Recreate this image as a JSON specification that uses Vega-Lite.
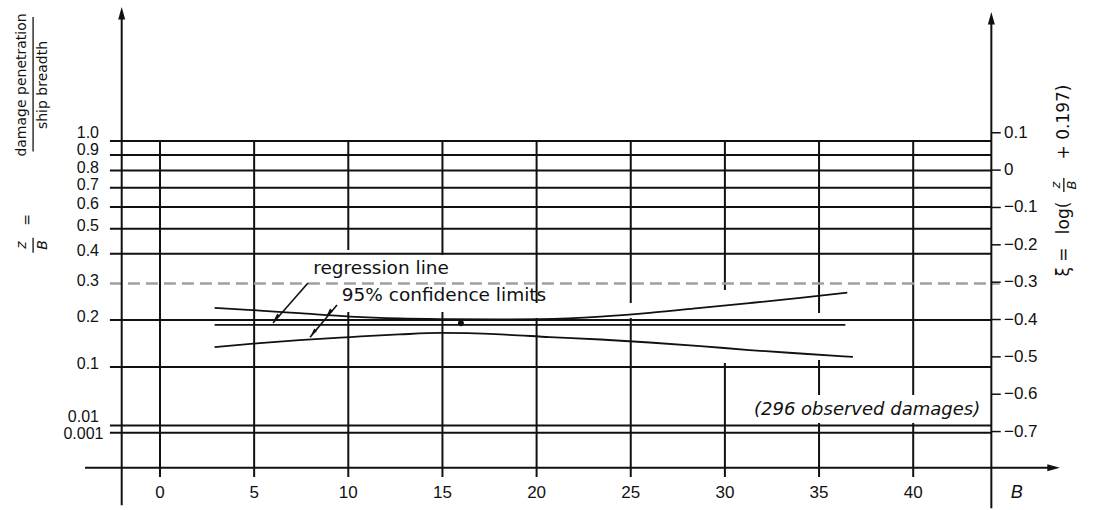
{
  "$schema": "https://vega.github.io/schema/vega-lite/v6.json",
  "width": 1095,
  "height": 510,
  "autosize": {"type": "none"},
  "padding": 0,
  "background": "white",
  "config": {"view": {"stroke": null}, "text": {"font": "Liberation Sans", "fontSize": 17, "color": "#111"}},
  "datasets": {
    "hl": [
      {"zb": "1.0", "xi": 0.0781}, {"zb": "0.9", "xi": 0.0402}, {"zb": "0.8", "xi": -0.0013},
      {"zb": "0.7", "xi": -0.0472}, {"zb": "0.6", "xi": -0.0985}, {"zb": "0.5", "xi": -0.1568},
      {"zb": "0.4", "xi": -0.224}, {"zb": "0.3", "xi": -0.3036}, {"zb": "0.2", "xi": -0.4012},
      {"zb": "0.1", "xi": -0.5272}, {"zb": "0.01", "xi": -0.684}, {"zb": "0.001", "xi": -0.7033}
    ],
    "vs": [
      {"B": 0, "top": 0.078, "bot": -0.8216},
      {"B": 5, "top": 0.078, "bot": -0.8216},
      {"B": 10, "top": 0.078, "bot": -0.2138}, {"B": 10, "top": -0.3798, "bot": -0.8216},
      {"B": 15, "top": 0.078, "bot": -0.2272}, {"B": 15, "top": -0.3798, "bot": -0.8216},
      {"B": 20, "top": 0.078, "bot": -0.3557}, {"B": 20, "top": -0.3959, "bot": -0.8216},
      {"B": 25, "top": 0.078, "bot": -0.3557}, {"B": 25, "top": -0.3959, "bot": -0.8216},
      {"B": 30, "top": 0.078, "bot": -0.3209}, {"B": 30, "top": -0.5164, "bot": -0.8216},
      {"B": 35, "top": 0.078, "bot": -0.3825}, {"B": 35, "top": -0.5084, "bot": -0.6021}, {"B": 35, "top": -0.6771, "bot": -0.8216},
      {"B": 40, "top": 0.078, "bot": -0.6021}, {"B": 40, "top": -0.6771, "bot": -0.8216}
    ],
    "rt": [
      {"xi": 0.1, "label": "0.1"}, {"xi": 0, "label": "0"}, {"xi": -0.1, "label": "−0.1"},
      {"xi": -0.2, "label": "−0.2"}, {"xi": -0.3, "label": "−0.3"}, {"xi": -0.4, "label": "−0.4"},
      {"xi": -0.5, "label": "−0.5"}, {"xi": -0.6, "label": "−0.6"}, {"xi": -0.7, "label": "−0.7"}
    ],
    "xt": [{"B": 0}, {"B": 5}, {"B": 10}, {"B": 15}, {"B": 20}, {"B": 25}, {"B": 30}, {"B": 35}, {"B": 40}],
    "cv": [
      {"s": "upper", "B": 2.9, "xi": -0.369}, {"s": "upper", "B": 5.3, "xi": -0.376}, {"s": "upper", "B": 7.4, "xi": -0.383},
      {"s": "upper", "B": 10.1, "xi": -0.392}, {"s": "upper", "B": 12.7, "xi": -0.397}, {"s": "upper", "B": 15.4, "xi": -0.399},
      {"s": "upper", "B": 18.1, "xi": -0.4}, {"s": "upper", "B": 20.2, "xi": -0.399}, {"s": "upper", "B": 23.4, "xi": -0.392},
      {"s": "upper", "B": 26.0, "xi": -0.382}, {"s": "upper", "B": 28.7, "xi": -0.369}, {"s": "upper", "B": 31.3, "xi": -0.356},
      {"s": "upper", "B": 34.0, "xi": -0.342}, {"s": "upper", "B": 36.5, "xi": -0.328},
      {"s": "lower", "B": 2.9, "xi": -0.474}, {"s": "lower", "B": 5.3, "xi": -0.463}, {"s": "lower", "B": 7.4, "xi": -0.455},
      {"s": "lower", "B": 10.1, "xi": -0.447}, {"s": "lower", "B": 12.7, "xi": -0.44}, {"s": "lower", "B": 14.9, "xi": -0.436},
      {"s": "lower", "B": 18.1, "xi": -0.44}, {"s": "lower", "B": 20.7, "xi": -0.447}, {"s": "lower", "B": 23.4, "xi": -0.4535},
      {"s": "lower", "B": 26.0, "xi": -0.4615}, {"s": "lower", "B": 28.7, "xi": -0.471}, {"s": "lower", "B": 31.3, "xi": -0.4818},
      {"s": "lower", "B": 34.0, "xi": -0.491}, {"s": "lower", "B": 36.8, "xi": -0.5},
      {"s": "regression", "B": 2.9, "xi": -0.4146}, {"s": "regression", "B": 36.4, "xi": -0.4146}
    ],
    "pt": [
      {"B": 7.86, "xi": -0.302, "B2": 6.0, "xi2": -0.4093},
      {"B": 9.4, "xi": -0.361, "B2": 7.97, "xi2": -0.4474}
    ]
  },
  "layer": [
    {
      "data": {"name": "vs"},
      "mark": {"type": "rule", "stroke": "#111", "strokeWidth": 2},
      "encoding": {
        "x": {"field": "B", "type": "quantitative", "scale": {"domain": [-8.497, 49.655], "nice": false, "zero": false}, "axis": null},
        "y": {"field": "top", "type": "quantitative", "scale": {"domain": [-0.91, 0.4555], "nice": false, "zero": false}, "axis": null},
        "y2": {"field": "bot"}
      }
    },
    {
      "data": {"name": "hl"},
      "transform": [{"filter": "datum.zb != '0.3'"}],
      "mark": {"type": "rule", "stroke": "#111", "strokeWidth": 2},
      "encoding": {
        "x": {"datum": -2.66, "type": "quantitative", "scale": {"domain": [-8.497, 49.655], "nice": false, "zero": false}, "axis": null},
        "x2": {"datum": 44.15},
        "y": {"field": "xi", "type": "quantitative", "scale": {"domain": [-0.91, 0.4555], "nice": false, "zero": false}, "axis": null}
      }
    },
    {
      "data": {"name": "hl"},
      "transform": [{"filter": "datum.zb == '0.3'"}],
      "mark": {"type": "rule", "stroke": "#a0a0a0", "strokeWidth": 2.5, "strokeDash": [12, 6]},
      "encoding": {
        "x": {"datum": -2.66, "type": "quantitative", "scale": {"domain": [-8.497, 49.655], "nice": false, "zero": false}, "axis": null},
        "x2": {"datum": 44.6},
        "y": {"field": "xi", "type": "quantitative", "scale": {"domain": [-0.91, 0.4555], "nice": false, "zero": false}, "axis": null}
      }
    },
    {
      "data": {"values": [{}]},
      "mark": {"type": "rule", "stroke": "#111", "strokeWidth": 2},
      "encoding": {
        "x": {"datum": -2.034, "type": "quantitative", "scale": {"domain": [-8.497, 49.655], "nice": false, "zero": false}, "axis": null},
        "y": {"datum": 0.41, "type": "quantitative", "scale": {"domain": [-0.91, 0.4555], "nice": false, "zero": false}, "axis": null},
        "y2": {"datum": -0.897}
      }
    },
    {
      "data": {"values": [{}]},
      "mark": {"type": "rule", "stroke": "#111", "strokeWidth": 2},
      "encoding": {
        "x": {"datum": 44.15, "type": "quantitative", "scale": {"domain": [-8.497, 49.655], "nice": false, "zero": false}, "axis": null},
        "y": {"datum": 0.4, "type": "quantitative", "scale": {"domain": [-0.91, 0.4555], "nice": false, "zero": false}, "axis": null},
        "y2": {"datum": -0.905}
      }
    },
    {
      "data": {"values": [{}]},
      "mark": {"type": "rule", "stroke": "#111", "strokeWidth": 2},
      "encoding": {
        "x": {"datum": -3.98, "type": "quantitative", "scale": {"domain": [-8.497, 49.655], "nice": false, "zero": false}, "axis": null},
        "x2": {"datum": 47.2},
        "y": {"datum": -0.7967, "type": "quantitative", "scale": {"domain": [-0.91, 0.4555], "nice": false, "zero": false}, "axis": null}
      }
    },
    {
      "data": {"values": [{}]},
      "mark": {"type": "point", "shape": "M0,-1L0.5,0.8L-0.5,0.8Z", "size": 196, "filled": true, "color": "#111", "opacity": 1},
      "encoding": {
        "x": {"datum": -2.034, "type": "quantitative", "scale": {"domain": [-8.497, 49.655], "nice": false, "zero": false}, "axis": null},
        "y": {"datum": 0.418, "type": "quantitative", "scale": {"domain": [-0.91, 0.4555], "nice": false, "zero": false}, "axis": null}
      }
    },
    {
      "data": {"values": [{}]},
      "mark": {"type": "point", "shape": "M0,-1L0.5,0.8L-0.5,0.8Z", "size": 196, "filled": true, "color": "#111", "opacity": 1},
      "encoding": {
        "x": {"datum": 44.15, "type": "quantitative", "scale": {"domain": [-8.497, 49.655], "nice": false, "zero": false}, "axis": null},
        "y": {"datum": 0.4047, "type": "quantitative", "scale": {"domain": [-0.91, 0.4555], "nice": false, "zero": false}, "axis": null}
      }
    },
    {
      "data": {"values": [{}]},
      "mark": {"type": "point", "shape": "M1,0L-0.8,0.5L-0.8,-0.5Z", "size": 196, "filled": true, "color": "#111", "opacity": 1},
      "encoding": {
        "x": {"datum": 47.42, "type": "quantitative", "scale": {"domain": [-8.497, 49.655], "nice": false, "zero": false}, "axis": null},
        "y": {"datum": -0.7967, "type": "quantitative", "scale": {"domain": [-0.91, 0.4555], "nice": false, "zero": false}, "axis": null}
      }
    },
    {
      "data": {"name": "hl"},
      "transform": [{"filter": "indexof(['0.8','0.7','0.6','0.5','0.4','0.3','0.2','0.1'], datum.zb) >= 0"}],
      "mark": {"type": "text", "align": "right", "baseline": "middle", "dy": -3, "fontSize": 16},
      "encoding": {
        "x": {"datum": -3.24, "type": "quantitative", "scale": {"domain": [-8.497, 49.655], "nice": false, "zero": false}, "axis": null},
        "y": {"field": "xi", "type": "quantitative", "scale": {"domain": [-0.91, 0.4555], "nice": false, "zero": false}, "axis": null},
        "text": {"field": "zb"}
      }
    },
    {
      "data": {"name": "hl"},
      "transform": [{"filter": "datum.zb == '0.9'"}],
      "mark": {"type": "text", "align": "right", "baseline": "middle", "dy": -5, "fontSize": 16},
      "encoding": {
        "x": {"datum": -3.24, "type": "quantitative", "scale": {"domain": [-8.497, 49.655], "nice": false, "zero": false}, "axis": null},
        "y": {"field": "xi", "type": "quantitative", "scale": {"domain": [-0.91, 0.4555], "nice": false, "zero": false}, "axis": null},
        "text": {"field": "zb"}
      }
    },
    {
      "data": {"name": "hl"},
      "transform": [{"filter": "datum.zb == '1.0'"}],
      "mark": {"type": "text", "align": "right", "baseline": "middle", "dy": -8, "fontSize": 16},
      "encoding": {
        "x": {"datum": -3.24, "type": "quantitative", "scale": {"domain": [-8.497, 49.655], "nice": false, "zero": false}, "axis": null},
        "y": {"field": "xi", "type": "quantitative", "scale": {"domain": [-0.91, 0.4555], "nice": false, "zero": false}, "axis": null},
        "text": {"field": "zb"}
      }
    },
    {
      "data": {"name": "hl"},
      "transform": [{"filter": "datum.zb == '0.01'"}],
      "mark": {"type": "text", "align": "right", "baseline": "middle", "dy": -9, "fontSize": 16},
      "encoding": {
        "x": {"datum": -3.24, "type": "quantitative", "scale": {"domain": [-8.497, 49.655], "nice": false, "zero": false}, "axis": null},
        "y": {"field": "xi", "type": "quantitative", "scale": {"domain": [-0.91, 0.4555], "nice": false, "zero": false}, "axis": null},
        "text": {"field": "zb"}
      }
    },
    {
      "data": {"name": "hl"},
      "transform": [{"filter": "datum.zb == '0.001'"}],
      "mark": {"type": "text", "align": "right", "baseline": "middle", "dy": 1, "fontSize": 16},
      "encoding": {
        "x": {"datum": -3.0, "type": "quantitative", "scale": {"domain": [-8.497, 49.655], "nice": false, "zero": false}, "axis": null},
        "y": {"field": "xi", "type": "quantitative", "scale": {"domain": [-0.91, 0.4555], "nice": false, "zero": false}, "axis": null},
        "text": {"field": "zb"}
      }
    },
    {
      "data": {"name": "rt"},
      "mark": {"type": "rule", "stroke": "#111", "strokeWidth": 1.5},
      "encoding": {
        "x": {"datum": 44.15, "type": "quantitative", "scale": {"domain": [-8.497, 49.655], "nice": false, "zero": false}, "axis": null},
        "x2": {"datum": 44.65},
        "y": {"field": "xi", "type": "quantitative", "scale": {"domain": [-0.91, 0.4555], "nice": false, "zero": false}, "axis": null}
      }
    },
    {
      "data": {"name": "rt"},
      "mark": {"type": "text", "align": "left", "baseline": "middle"},
      "encoding": {
        "x": {"datum": 44.82, "type": "quantitative", "scale": {"domain": [-8.497, 49.655], "nice": false, "zero": false}, "axis": null},
        "y": {"field": "xi", "type": "quantitative", "scale": {"domain": [-0.91, 0.4555], "nice": false, "zero": false}, "axis": null},
        "text": {"field": "label"}
      }
    },
    {
      "data": {"name": "xt"},
      "mark": {"type": "text", "align": "center", "baseline": "middle"},
      "encoding": {
        "x": {"field": "B", "type": "quantitative", "scale": {"domain": [-8.497, 49.655], "nice": false, "zero": false}, "axis": null},
        "y": {"datum": -0.8645, "type": "quantitative", "scale": {"domain": [-0.91, 0.4555], "nice": false, "zero": false}, "axis": null},
        "text": {"field": "B", "type": "quantitative"}
      }
    },
    {
      "data": {"name": "cv"},
      "mark": {"type": "line", "stroke": "#111", "strokeWidth": 1.8, "interpolate": "monotone"},
      "encoding": {
        "x": {"field": "B", "type": "quantitative", "scale": {"domain": [-8.497, 49.655], "nice": false, "zero": false}, "axis": null},
        "y": {"field": "xi", "type": "quantitative", "scale": {"domain": [-0.91, 0.4555], "nice": false, "zero": false}, "axis": null},
        "detail": {"field": "s"}
      }
    },
    {
      "data": {"values": [{"B": 15.98, "xi": -0.41}]},
      "mark": {"type": "point", "shape": "circle", "size": 35, "filled": true, "color": "#111", "opacity": 1},
      "encoding": {
        "x": {"field": "B", "type": "quantitative", "scale": {"domain": [-8.497, 49.655], "nice": false, "zero": false}, "axis": null},
        "y": {"field": "xi", "type": "quantitative", "scale": {"domain": [-0.91, 0.4555], "nice": false, "zero": false}, "axis": null}
      }
    },
    {
      "data": {"name": "pt"},
      "mark": {"type": "rule", "stroke": "#111", "strokeWidth": 1.6},
      "encoding": {
        "x": {"field": "B", "type": "quantitative", "scale": {"domain": [-8.497, 49.655], "nice": false, "zero": false}, "axis": null},
        "y": {"field": "xi", "type": "quantitative", "scale": {"domain": [-0.91, 0.4555], "nice": false, "zero": false}, "axis": null},
        "x2": {"field": "B2"},
        "y2": {"field": "xi2"}
      }
    },
    {
      "data": {"values": [{"B": 6.16, "xi": -0.3959}]},
      "mark": {"type": "point", "shape": "M0,-1L0.45,1L-0.45,1Z", "size": 70, "angle": 221, "filled": true, "color": "#111", "opacity": 1},
      "encoding": {
        "x": {"field": "B", "type": "quantitative", "scale": {"domain": [-8.497, 49.655], "nice": false, "zero": false}, "axis": null},
        "y": {"field": "xi", "type": "quantitative", "scale": {"domain": [-0.91, 0.4555], "nice": false, "zero": false}, "axis": null}
      }
    },
    {
      "data": {"values": [{"B": 8.97, "xi": -0.3825}, {"B": 8.13, "xi": -0.436}]},
      "mark": {"type": "point", "shape": "M0,-1L0.45,1L-0.45,1Z", "size": 70, "angle": 219, "filled": true, "color": "#111", "opacity": 1},
      "encoding": {
        "x": {"field": "B", "type": "quantitative", "scale": {"domain": [-8.497, 49.655], "nice": false, "zero": false}, "axis": null},
        "y": {"field": "xi", "type": "quantitative", "scale": {"domain": [-0.91, 0.4555], "nice": false, "zero": false}, "axis": null}
      }
    },
    {
      "data": {"values": [
        {"B": 11.74, "xi": -0.262, "t": "regression line"},
        {"B": 15.08, "xi": -0.334, "t": "95% confidence limits"}
      ]},
      "mark": {"type": "text", "align": "center", "baseline": "middle", "font": "DejaVu Sans", "fontSize": 18.5},
      "encoding": {
        "x": {"field": "B", "type": "quantitative", "scale": {"domain": [-8.497, 49.655], "nice": false, "zero": false}, "axis": null},
        "y": {"field": "xi", "type": "quantitative", "scale": {"domain": [-0.91, 0.4555], "nice": false, "zero": false}, "axis": null},
        "text": {"field": "t"}
      }
    },
    {
      "data": {"values": [
        {"B": 37.55, "xi": -0.642, "t": "(296 observed damages)"}
      ]},
      "mark": {"type": "text", "align": "center", "baseline": "middle", "font": "DejaVu Sans", "fontSize": 18, "fontStyle": "italic"},
      "encoding": {
        "x": {"field": "B", "type": "quantitative", "scale": {"domain": [-8.497, 49.655], "nice": false, "zero": false}, "axis": null},
        "y": {"field": "xi", "type": "quantitative", "scale": {"domain": [-0.91, 0.4555], "nice": false, "zero": false}, "axis": null},
        "text": {"field": "t"}
      }
    },
    {
      "data": {"values": [
        {"B": 45.5, "xi": -0.8645, "t": "B"}
      ]},
      "mark": {"type": "text", "align": "center", "baseline": "middle", "fontSize": 18, "fontStyle": "italic"},
      "encoding": {
        "x": {"field": "B", "type": "quantitative", "scale": {"domain": [-8.497, 49.655], "nice": false, "zero": false}, "axis": null},
        "y": {"field": "xi", "type": "quantitative", "scale": {"domain": [-0.91, 0.4555], "nice": false, "zero": false}, "axis": null},
        "text": {"field": "t"}
      }
    },
    {
      "data": {"values": [
        {"B": -7.33, "xi": 0.228, "t": "damage penetration"},
        {"B": -6.21, "xi": 0.228, "t": "ship breadth"},
        {"B": -7.0, "xi": -0.1335, "t": "="}
      ]},
      "mark": {"type": "text", "align": "center", "baseline": "middle", "angle": 270, "font": "DejaVu Sans", "fontSize": 14},
      "encoding": {
        "x": {"field": "B", "type": "quantitative", "scale": {"domain": [-8.497, 49.655], "nice": false, "zero": false}, "axis": null},
        "y": {"field": "xi", "type": "quantitative", "scale": {"domain": [-0.91, 0.4555], "nice": false, "zero": false}, "axis": null},
        "text": {"field": "t"}
      }
    },
    {
      "data": {"values": [
        {"B": 48.0, "xi": -0.246, "t": "ξ ="},
        {"B": 48.0, "xi": -0.128, "t": "log("},
        {"B": 48.0, "xi": 0.1289, "t": "+ 0.197)"}
      ]},
      "mark": {"type": "text", "align": "center", "baseline": "middle", "angle": 270, "font": "DejaVu Sans", "fontSize": 17},
      "encoding": {
        "x": {"field": "B", "type": "quantitative", "scale": {"domain": [-8.497, 49.655], "nice": false, "zero": false}, "axis": null},
        "y": {"field": "xi", "type": "quantitative", "scale": {"domain": [-0.91, 0.4555], "nice": false, "zero": false}, "axis": null},
        "text": {"field": "t"}
      }
    },
    {
      "data": {"values": [
        {"B": -7.33, "xi": -0.2004, "t": "z"},
        {"B": -6.21, "xi": -0.2004, "t": "B"}
      ]},
      "mark": {"type": "text", "align": "center", "baseline": "middle", "angle": 270, "font": "DejaVu Sans", "fontSize": 14, "fontStyle": "italic"},
      "encoding": {
        "x": {"field": "B", "type": "quantitative", "scale": {"domain": [-8.497, 49.655], "nice": false, "zero": false}, "axis": null},
        "y": {"field": "xi", "type": "quantitative", "scale": {"domain": [-0.91, 0.4555], "nice": false, "zero": false}, "axis": null},
        "text": {"field": "t"}
      }
    },
    {
      "data": {"values": [
        {"B": 47.6, "xi": -0.0398, "t": "z"},
        {"B": 48.42, "xi": -0.0398, "t": "B"}
      ]},
      "mark": {"type": "text", "align": "center", "baseline": "middle", "angle": 270, "font": "DejaVu Sans", "fontSize": 13, "fontStyle": "italic"},
      "encoding": {
        "x": {"field": "B", "type": "quantitative", "scale": {"domain": [-8.497, 49.655], "nice": false, "zero": false}, "axis": null},
        "y": {"field": "xi", "type": "quantitative", "scale": {"domain": [-0.91, 0.4555], "nice": false, "zero": false}, "axis": null},
        "text": {"field": "t"}
      }
    },
    {
      "data": {"values": [
        {"B": -6.74, "xi": 0.41, "xi2": 0.05},
        {"B": -6.74, "xi": -0.181, "xi2": -0.221},
        {"B": 48.0, "xi": -0.021, "xi2": -0.0585}
      ]},
      "mark": {"type": "rule", "stroke": "#111", "strokeWidth": 1.3},
      "encoding": {
        "x": {"field": "B", "type": "quantitative", "scale": {"domain": [-8.497, 49.655], "nice": false, "zero": false}, "axis": null},
        "y": {"field": "xi", "type": "quantitative", "scale": {"domain": [-0.91, 0.4555], "nice": false, "zero": false}, "axis": null},
        "y2": {"field": "xi2"}
      }
    }
  ]
}
